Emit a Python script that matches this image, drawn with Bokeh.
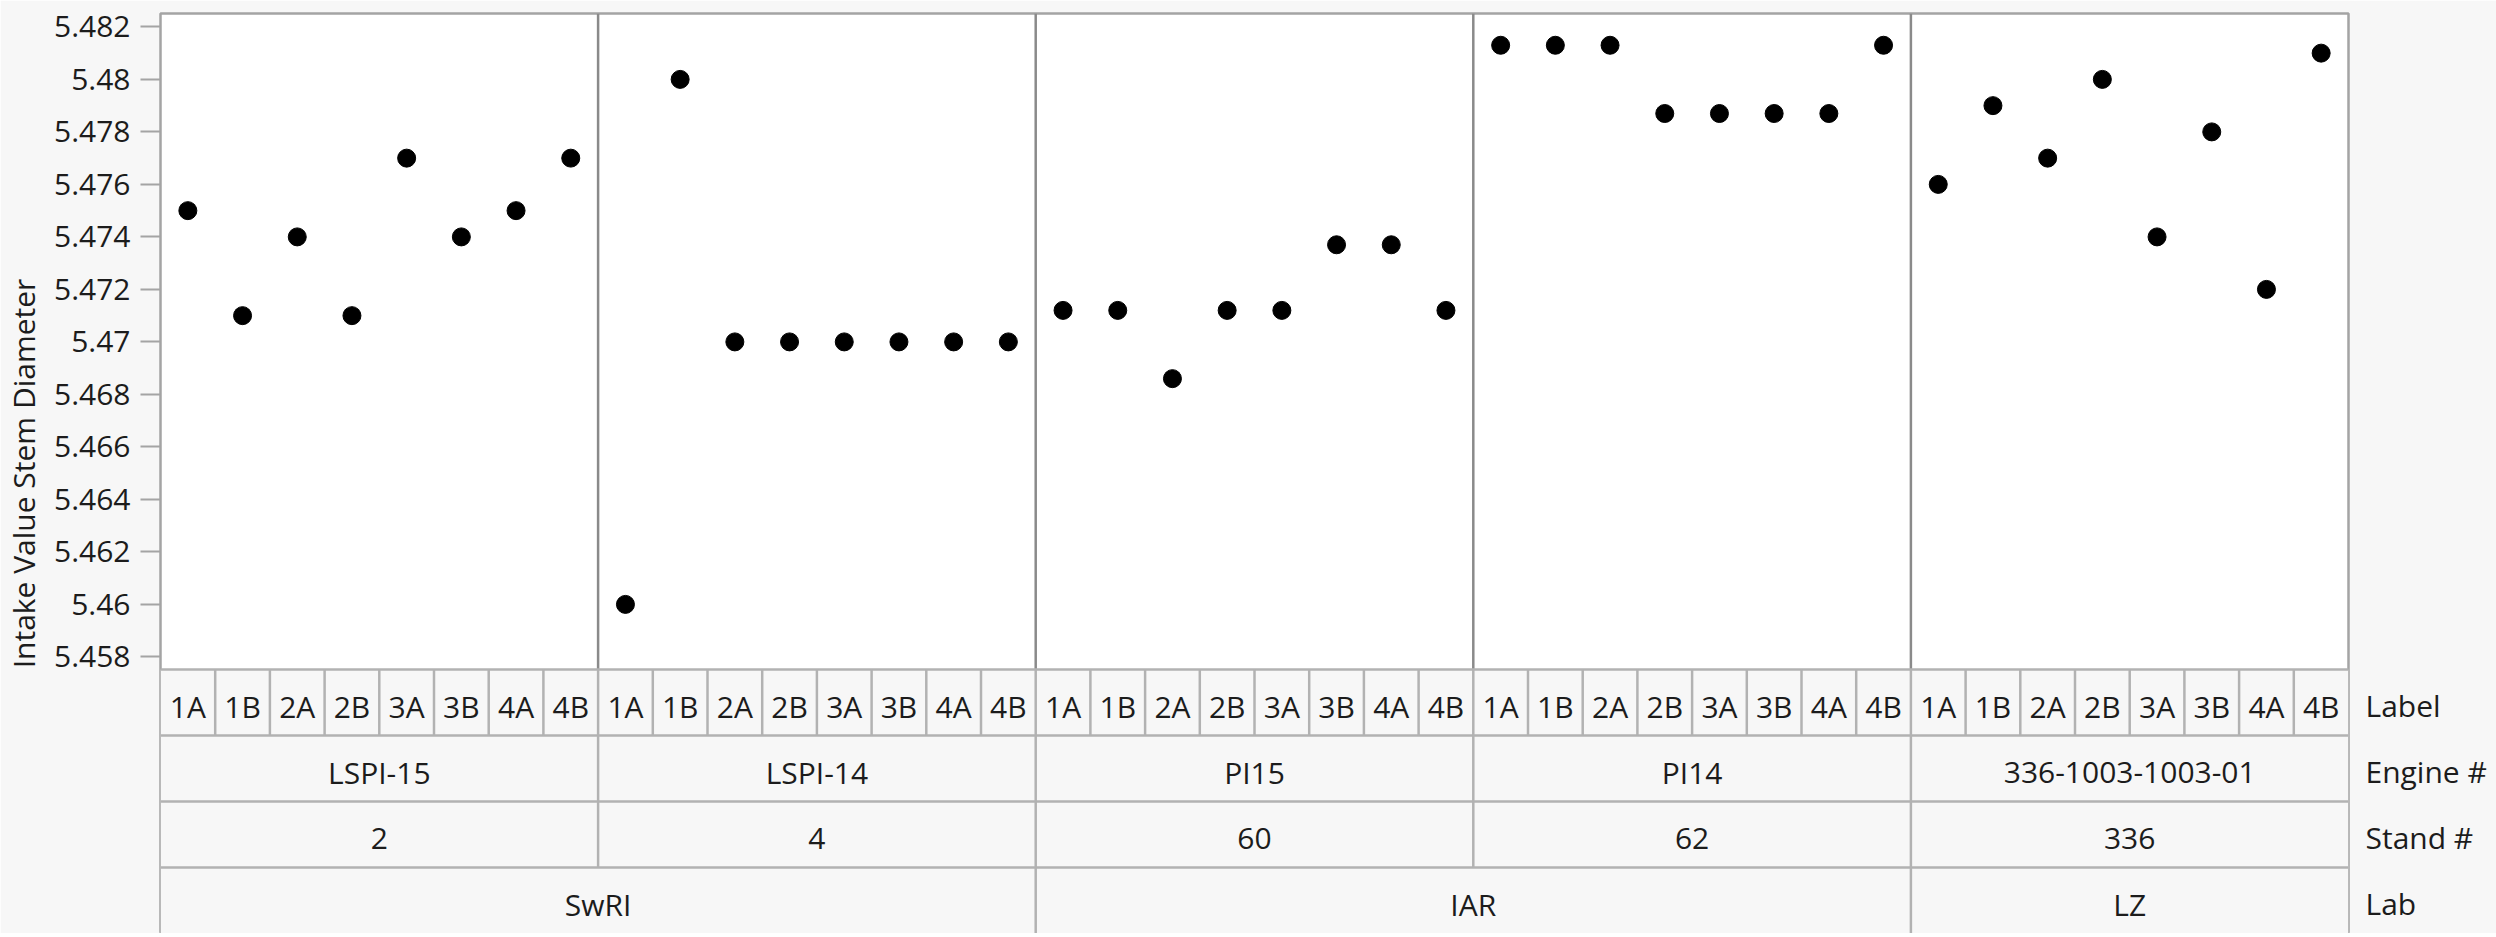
import numpy as np
from bokeh.plotting import figure
from bokeh.models import Range1d, FixedTicker, LinearAxis
from bokeh.core.properties import value
from bokeh.embed import file_html
from bokeh.resources import INLINE

# ---------------- data ----------------
labs = ["SwRI", "IAR", "LZ"]
lab_engine_counts = [2, 2, 1]
engines = ["LSPI-15", "LSPI-14", "PI15", "PI14", "336-1003-1003-01"]
stands = ["2", "4", "60", "62", "336"]
labels = ["1A", "1B", "2A", "2B", "3A", "3B", "4A", "4B"]

lspi15 = [5.475, 5.471, 5.474, 5.471, 5.477, 5.474, 5.475, 5.477]
lspi14 = [5.460, 5.480, 5.470, 5.470, 5.470, 5.470, 5.470, 5.470]
pi15 = [5.4712, 5.4712, 5.4686, 5.4712, 5.4712, 5.4737, 5.4737, 5.4712]
pi14 = [5.4813, 5.4813, 5.4813, 5.4787, 5.4787, 5.4787, 5.4787, 5.4813]
lz = [5.476, 5.479, 5.477, 5.480, 5.474, 5.478, 5.472, 5.481]

y_ticks = [5.458, 5.46, 5.462, 5.464, 5.466, 5.468, 5.47, 5.472, 5.474,
           5.476, 5.478, 5.48, 5.482]
y_tick_labels = ["5.458", "5.46", "5.462", "5.464", "5.466", "5.468", "5.47",
                 "5.472", "5.474", "5.476", "5.478", "5.48", "5.482"]
y_title = "Intake Value Stem Diameter"
row_names = ["Label", "Engine #", "Stand #", "Lab"]

# ---------------- style ----------------
FONT = "Open Sans"
FSIZE = "30px"
TXT = "#1c1c1c"
BG = "#f7f7f7"
CELL_LINE = "#b2b2b2"
FRAME_LINE = "#a4a4a4"
SEP_LINE = "#8a8a8a"
GRID_LINE = "#dedede"

W, H = 2496, 933
LEFT, RIGHT, TOP = 160, 148, 13
FRAME_H = H - TOP          # 920
PLOT_PX = 656              # data area height
TAB_PX = FRAME_H - PLOT_PX  # table height (4 rows)
ROW_PX = TAB_PX / 4.0

Y_LO, Y_HI = 5.45752, 5.48251
per_px = (Y_HI - Y_LO) / PLOT_PX
y_start = Y_LO - TAB_PX * per_px

series = [lspi15, lspi14, pi15, pi14, lz]
n_lab = len(labels)
N = n_lab * len(engines)

xs, ys = [], []
for gi, vals in enumerate(series):
    for li, v in enumerate(vals):
        xs.append(gi * n_lab + li + 0.5)
        ys.append(v)

p = figure(width=W, height=H, x_range=Range1d(0, N),
           y_range=Range1d(y_start, Y_HI),
           x_axis_type=None, y_axis_type=None, output_backend="svg",
           toolbar_location=None,
           min_border_left=LEFT, min_border_right=RIGHT,
           min_border_top=TOP, min_border_bottom=0)
p.extra_y_ranges = {"tab": Range1d(0, 4.0 * FRAME_H / TAB_PX)}
p.background_fill_color = "white"
p.border_fill_color = BG
p.outline_line_color = FRAME_LINE
p.outline_line_width = 2.5

# ---- left value axis (spans only the data area) ----
ax = LinearAxis(ticker=FixedTicker(ticks=y_ticks), bounds=(Y_LO, Y_HI))
ax.major_label_overrides = dict(zip(y_ticks, y_tick_labels))
ax.major_tick_out = 20
ax.major_tick_in = 0
ax.minor_tick_out = 0
ax.minor_tick_in = 0
ax.major_tick_line_color = FRAME_LINE
ax.major_tick_line_width = 2
ax.axis_line_color = None
ax.major_label_standoff = 10
ax.major_label_text_font = FONT
ax.major_label_text_font_size = FSIZE
ax.major_label_text_color = TXT
ax.axis_label = y_title
ax.axis_label_standoff = 7
ax.axis_label_text_font = FONT
ax.axis_label_text_font_size = FSIZE
ax.axis_label_text_font_style = "normal"
ax.axis_label_text_color = TXT
p.add_layout(ax, "left")

# ---- grid (only inside the data area because of fixed ticks) ----
p.ygrid.ticker = FixedTicker(ticks=y_ticks)
p.ygrid.grid_line_color = GRID_LINE
p.ygrid.grid_line_width = 2

# ---- table background ----
p.quad(left=[0], right=[N], bottom=[0], top=[4], y_range_name="tab",
       fill_color=BG, line_color=None)

# ---- panel separators in data area ----
bounds = [gi * n_lab for gi in range(1, len(engines))]
p.segment(x0=bounds, y0=[Y_LO] * len(bounds), x1=bounds,
          y1=[Y_HI] * len(bounds), line_color=SEP_LINE, line_width=2.5)

# ---- points ----
p.scatter(xs, ys, marker="circle", size=18, fill_color="black",
          line_color="black")

# ---- table lines ----
t_kw = dict(y_range_name="tab", line_color=CELL_LINE, line_width=2.5)
p.segment(x0=[0] * 4, y0=[1, 2, 3, 4], x1=[N] * 4, y1=[1, 2, 3, 4], **t_kw)
lx = list(range(1, N))
p.segment(x0=lx, y0=[3] * len(lx), x1=lx, y1=[4] * len(lx), **t_kw)
p.segment(x0=bounds, y0=[1] * len(bounds), x1=bounds,
          y1=[3] * len(bounds), **t_kw)
lab_bounds = list(np.cumsum(lab_engine_counts)[:-1] * n_lab)
p.segment(x0=lab_bounds, y0=[0] * len(lab_bounds), x1=lab_bounds,
          y1=[1] * len(lab_bounds), **t_kw)

# ---- table texts ----
BASE = 37.0 / ROW_PX
txt_kw = dict(text_font=value(FONT), text_font_size=value(FSIZE),
              text_color=TXT, text_align="center",
              text_baseline="alphabetic", y_range_name="tab")
p.text(x=[i + 0.5 for i in range(N)], y=[4 - BASE] * N,
       text=[labels[i % n_lab] for i in range(N)], **txt_kw)
ecx = [gi * n_lab + n_lab / 2 for gi in range(len(engines))]
p.text(x=ecx, y=[3 - BASE] * len(engines), text=engines, **txt_kw)
p.text(x=ecx, y=[2 - BASE] * len(stands), text=stands, **txt_kw)
lab_edges = [0] + list(np.cumsum(lab_engine_counts) * n_lab)
lcx = [(lab_edges[i] + lab_edges[i + 1]) / 2 for i in range(len(labs))]
p.text(x=lcx, y=[1 - BASE] * len(labs), text=labs, **txt_kw)

# ---- row names as right-hand axis ----
row_pos = [3.5 - i - 3.0 / ROW_PX for i in range(len(row_names))]
rax = LinearAxis(y_range_name="tab", ticker=FixedTicker(ticks=row_pos))
rax.major_label_overrides = dict(zip(row_pos, row_names))
rax.major_tick_out = 0
rax.major_tick_in = 0
rax.minor_tick_out = 0
rax.minor_tick_in = 0
rax.axis_line_color = None
rax.major_label_standoff = 17
rax.major_label_text_font = FONT
rax.major_label_text_font_size = FSIZE
rax.major_label_text_color = TXT
p.add_layout(rax, "right")

open("out.html", "w").write(file_html(p, INLINE))
